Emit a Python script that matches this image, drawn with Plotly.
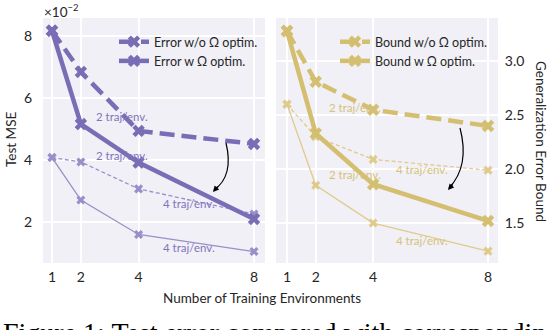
import plotly.graph_objects as go

# ---------------- data ----------------
n_env = [1, 2, 4, 8]
x_ticks = [1, 2, 4, 8]

# Test MSE (units of 1e-2)
err_wo_2traj = [8.17, 6.84, 4.94, 4.52]
err_w_2traj = [8.17, 5.16, 3.92, 2.10]
err_wo_4traj = [4.08, 3.94, 3.07, 2.26]
err_w_4traj = [4.08, 2.71, 1.60, 1.05]

# Generalization error bound
bnd_wo_2traj = [3.28, 2.81, 2.55, 2.40]
bnd_w_2traj = [3.28, 2.33, 1.86, 1.52]
bnd_wo_4traj = [2.60, 2.30, 2.09, 1.99]
bnd_w_4traj = [2.60, 1.85, 1.50, 1.24]

left_ticks = [2, 4, 6, 8]
right_ticks = [1.5, 2.0, 2.5, 3.0]

# ---------------- style ----------------
W, H = 550, 330
PURPLE = "#7A6DB5"
PURPLE_T = "#998FCA"
PURPLE_TXT = "#8075BD"
GOLD = "#D4BE70"
GOLD_T = "#DFCB8D"
GOLD_TXT = "#D6C27A"
BG = "#F0F0F6"
FONT = "Lato"
TXT = "#262626"

# pixel helpers for layout placement
def px(x):
    return x / W

def py(y):
    return 1 - y / H

fig = go.Figure()

def add(xs, ys, color, width, dash, msize, name, xa, ya, legend, showlegend):
    fig.add_trace(go.Scatter(
        x=xs, y=ys, mode="lines+markers", name=name,
        line=dict(color=color, width=width, dash=dash),
        marker=dict(symbol="x", size=msize, color=color, line=dict(width=0)),
        xaxis=xa, yaxis=ya, legend=legend, showlegend=showlegend,
    ))

# left panel
add(n_env, err_wo_4traj, PURPLE_T, 1.3, "4px,2.5px", 8, "", "x", "y", "legend", False)
add(n_env, err_w_4traj, PURPLE_T, 1.3, "solid", 8, "", "x", "y", "legend", False)
add(n_env, err_wo_2traj, PURPLE, 4.5, "15px,7px", 11, "Error w/o Ω optim.", "x", "y", "legend", True)
add(n_env, err_w_2traj, PURPLE, 4.5, "solid", 11, "Error w Ω optim.", "x", "y", "legend", True)

# right panel
add(n_env, bnd_wo_4traj, GOLD_T, 1.3, "4px,2.5px", 8, "", "x2", "y2", "legend2", False)
add(n_env, bnd_w_4traj, GOLD_T, 1.3, "solid", 8, "", "x2", "y2", "legend2", False)
add(n_env, bnd_wo_2traj, GOLD, 4.5, "15px,7px", 11, "Bound w/o Ω optim.", "x2", "y2", "legend2", True)
add(n_env, bnd_w_2traj, GOLD, 4.5, "solid", 11, "Bound w Ω optim.", "x2", "y2", "legend2", True)

axis_common = dict(
    showgrid=True, gridcolor="white", gridwidth=1.5, zeroline=False,
    showline=False, tickfont=dict(family=FONT, size=14, color=TXT), automargin=False,
)
yticks = dict(ticks="outside", tickcolor="rgba(0,0,0,0)", ticklen=7)
y2ticks = dict(ticks="outside", tickcolor="rgba(0,0,0,0)", ticklen=3)
xticks = dict(ticks="outside", tickcolor="rgba(0,0,0,0)", ticklen=1)

fig.update_layout(
    width=W, height=H,
    margin=dict(l=0, r=0, t=0, b=0),
    paper_bgcolor="white", plot_bgcolor=BG,
    font=dict(family=FONT, color=TXT),
    xaxis=dict(domain=[px(43), px(265)], range=[0.688, 8.381], tickvals=x_ticks,
               anchor="y", **axis_common, **xticks),
    yaxis=dict(domain=[py(263), py(18)], range=[0.68, 8.58], tickvals=left_ticks,
               anchor="x", **axis_common, **yticks),
    xaxis2=dict(domain=[px(276), px(498)], range=[0.617, 8.348], tickvals=x_ticks,
                anchor="y2", **axis_common, **xticks),
    yaxis2=dict(domain=[py(263), py(18)], range=[1.13, 3.40], tickvals=right_ticks,
                tickformat=".1f", side="right", anchor="x2", **axis_common, **y2ticks),
    legend=dict(x=px(114), y=py(27), xanchor="left", yanchor="top",
                bgcolor="rgba(0,0,0,0)", font=dict(family=FONT, size=12.5, color=TXT),
                tracegroupgap=0, itemwidth=30),
    legend2=dict(x=px(335), y=py(27), xanchor="left", yanchor="top",
                 bgcolor="rgba(0,0,0,0)", font=dict(family=FONT, size=12.5, color=TXT),
                 tracegroupgap=0, itemwidth=30),
)

# "traj/env." labels
labels_left = [(2.45, 5.39, "2 traj/env."), (2.45, 4.16, "2 traj/env."),
               (4.78, 2.61, "4 traj/env."), (4.78, 1.19, "4 traj/env.")]
labels_right = [(2.40, 2.574, "2 traj/env."), (2.40, 1.954, "2 traj/env."),
                (4.73, 2.00, "4 traj/env."), (4.73, 1.343, "4 traj/env.")]
for x, y, t in labels_left:
    fig.add_annotation(x=x, y=y, xref="x", yref="y", text=t, showarrow=False,
                       xanchor="left", yanchor="middle",
                       font=dict(family=FONT, size=11.5, color=PURPLE_TXT))
for x, y, t in labels_right:
    fig.add_annotation(x=x, y=y, xref="x2", yref="y2", text=t, showarrow=False,
                       xanchor="left", yanchor="middle",
                       font=dict(family=FONT, size=11.5, color=GOLD_TXT))

# axis titles and text
fig.add_annotation(x=px(11), y=py(140), xref="paper", yref="paper", text="Test MSE",
                   textangle=-90, showarrow=False, xanchor="center", yanchor="middle",
                   font=dict(family=FONT, size=13.5, color=TXT))
fig.add_annotation(x=px(541), y=py(141), xref="paper", yref="paper",
                   text="Generalization Error Bound", textangle=90, showarrow=False,
                   xanchor="center", yanchor="middle",
                   font=dict(family=FONT, size=13.5, color=TXT))
fig.add_annotation(x=px(262), y=py(298), xref="paper", yref="paper",
                   text="Number of Training Environments", showarrow=False,
                   xanchor="center", yanchor="middle",
                   font=dict(family=FONT, size=13.5, color=TXT))
fig.add_annotation(x=px(42), y=py(11), xref="paper", yref="paper",
                   text="×10<sup>−2</sup>", showarrow=False, xanchor="left",
                   yanchor="middle", font=dict(family=FONT, size=13.5, color=TXT))
fig.add_annotation(x=px(1), y=py(315), xref="paper", yref="paper",
                   text="Figure 1: Test error compared with corresponding",
                   showarrow=False, xanchor="left", yanchor="top",
                   font=dict(family="Liberation Serif", size=28, color="black"))

# curved arrows
def curve(p0, c, p1):
    return (f"M {px(p0[0])},{py(p0[1])} Q {px(c[0])},{py(c[1])} "
            f"{px(p1[0])},{py(p1[1])}")

for p0, c, p1 in [((226, 143), (234, 176), (214, 190)),
                  ((460, 128), (470, 166), (449, 188))]:
    fig.add_shape(type="path", xref="paper", yref="paper",
                  path=curve(p0, c, p1), line=dict(color="black", width=1.2))
    fig.add_annotation(x=px(p1[0] - 1), y=py(p1[1] + 2), xref="paper", yref="paper",
                       ax=6, ay=-7, text="", showarrow=True, arrowhead=2,
                       arrowsize=1, arrowwidth=1.2, arrowcolor="black")

fig.write_html(
    "out.html",
    config={"displayModeBar": False},
    post_script="document.body.style.margin='0px';document.body.style.overflow='hidden';",
)
